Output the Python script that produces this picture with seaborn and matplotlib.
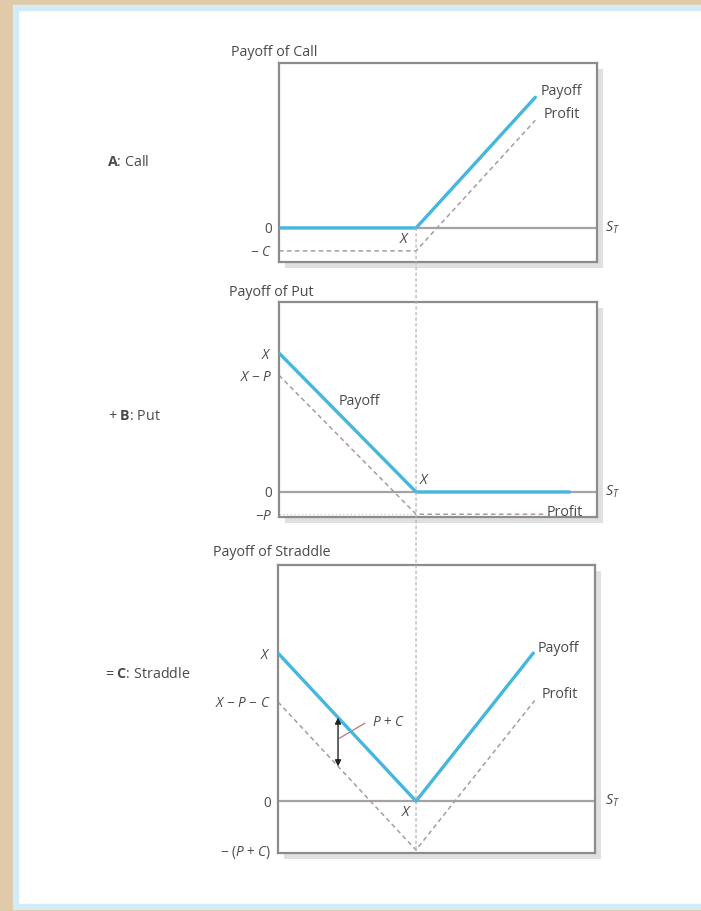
import matplotlib
matplotlib.use("Agg")
import matplotlib.pyplot as plt
import matplotlib.patheffects as pe
from matplotlib.patches import Rectangle, ConnectionPatch
import seaborn as sns

# ---------------- data ----------------
strike = 100
call_premium = 16.5
put_premium = 16
straddle_cost = 33

call_s = [0, 100, 187]
call_payoff = [0, 0, 94]
call_profit = [-16.5, -16.5, 77.5]

put_s_payoff = [0, 100, 212]
put_payoff = [100, 0, 0]
put_s_profit = [0, 100, 193]
put_profit = [84, -16, -16]

strad_s_payoff = [0, 100, 185]
strad_payoff = [100, 0, 100]
strad_s_profit = [0, 100, 186]
strad_profit = [67, -33, 68]

call_ticks = [0, -16.5]
call_ticklabels = ["0", "− $C$"]
put_ticks = [100, 84, 0, -16]
put_ticklabels = ["$X$", "$X$ − $P$", "0", "−$P$"]
strad_ticks = [100, 67, 0, -33]
strad_ticklabels = ["$X$", "$X$ − $P$ − $C$", "0", "− ($P$ + $C$)"]

# ---------------- style ----------------
sns.set_style("white")
plt.rcParams["font.family"] = ["Open Sans", "DejaVu Sans"]
plt.rcParams["mathtext.fontset"] = "custom"
plt.rcParams["mathtext.rm"] = "Open Sans"
plt.rcParams["mathtext.it"] = "Open Sans:italic"
plt.rcParams["mathtext.bf"] = "Open Sans:bold"

W, H = 701, 911
fig = plt.figure(figsize=(W / 100, H / 100), dpi=100, facecolor="#e0caa9")

def fx(px):
    return px / W

def fy(py):
    return 1 - py / H

# white frame with light-blue border
frame = Rectangle((fx(16), fy(907)), fx(720) - fx(16), fy(8) - fy(907),
                  transform=fig.transFigure, facecolor="white",
                  edgecolor="#d3ebf7", linewidth=4.5, zorder=-10)
fig.add_artist(frame)

PAY_C = "#45b6de"
PROF_C = "#ab9a9f"
ZERO_C = "#a3a3a3"
SPINE_C = "#8c8c8c"
TXT_C = "#4a4a4a"
FS = 10.3
TS = 9.8

def make_ax(l, t, r, b):
    ax = fig.add_axes([fx(l), fy(b), fx(r) - fx(l), fy(t) - fy(b)])
    ax.set_facecolor("white")
    ax.patch.set_path_effects([
        pe.SimplePatchShadow(offset=(4, -4), shadow_rgbFace="#999999", alpha=0.3),
        pe.Normal()])
    for sp in ax.spines.values():
        sp.set_color(SPINE_C)
        sp.set_linewidth(1.6)
        sp.set_visible(True)
    ax.set_xticks([])
    ax.tick_params(axis="y", length=0, pad=5, labelsize=TS, labelcolor=TXT_C)
    ax.set_xlabel("")
    ax.set_ylabel("")
    return ax

def draw(ax, s_pay, pay, s_prof, prof, xlim, ylim):
    ax.axhline(0, color=ZERO_C, lw=1.6, zorder=1)
    sns.lineplot(x=s_prof, y=prof, sort=False, estimator=None, ax=ax,
                 color=PROF_C, lw=1.1, dashes=False, zorder=2)
    ax.lines[-1].set_linestyle((0, (3, 2.2)))
    sns.lineplot(x=s_pay, y=pay, sort=False, estimator=None, ax=ax,
                 color=PAY_C, lw=2.4, zorder=3)
    ax.set_xlim(*xlim)
    ax.set_ylim(*ylim)

# ---- Panel A: Call ----
axA = make_ax(279, 63, 597, 262)
draw(axA, call_s, call_payoff, call_s, call_profit, (0, 232), (-24.5, 118.7))
axA.set_yticks(call_ticks, call_ticklabels)
axA.text(191, 98, "Payoff", fontsize=FS, color=TXT_C, va="center")
axA.text(193, 82, "Profit", fontsize=FS, color=TXT_C, va="center")
axA.text(92, -8.6, "$X$", fontsize=FS, color=TXT_C, ha="center", va="center")
axA.text(238, 0, "$S_T$", fontsize=FS, color=TXT_C, va="center", clip_on=False)

# ---- Panel B: Put ----
axB = make_ax(279, 302, 597, 517)
axB.hlines(-put_premium, 0, strike, colors="#cfcfcf", linestyles=(0, (1, 2)), lw=0.9)
draw(axB, put_s_payoff, put_payoff, put_s_profit, put_profit, (0, 232), (-18, 136.7))
axB.set_yticks(put_ticks, put_ticklabels)
axB.text(59, 65, "Payoff", fontsize=FS, color=TXT_C, ha="center", va="center")
axB.text(195, -15, "Profit", fontsize=FS, color=TXT_C, va="center")
axB.text(106.5, 8, "$X$", fontsize=FS, color=TXT_C, ha="center", va="center")
axB.text(238, 0, "$S_T$", fontsize=FS, color=TXT_C, va="center", clip_on=False)

# ---- Panel C: Straddle ----
axC = make_ax(278, 565, 595, 853)
draw(axC, strad_s_payoff, strad_payoff, strad_s_profit, strad_profit, (0, 229.7), (-35, 159.5))
axC.set_yticks(strad_ticks, strad_ticklabels)
axC.text(188, 103, "Payoff", fontsize=FS, color=TXT_C, va="center")
axC.text(191, 72, "Profit", fontsize=FS, color=TXT_C, va="center")
axC.text(93.5, -7.4, "$X$", fontsize=FS, color=TXT_C, ha="center", va="center")
axC.text(237, 0, "$S_T$", fontsize=FS, color=TXT_C, va="center", clip_on=False)
# P + C double arrow and leader
axC.annotate("", xy=(43.5, 23.5), xytext=(43.5, 56.5),
             arrowprops=dict(arrowstyle="<|-|>", color="#222222", lw=1.0,
                             shrinkA=0, shrinkB=0, mutation_scale=9))
axC.plot([44.5, 63], [42.5, 52.7], color="#c0707c", lw=0.9)
axC.text(68, 53.4, "$P$ + $C$", fontsize=TS, color=TXT_C, va="center")

# vertical dotted guide through the strike across all panels
con = ConnectionPatch(xyA=(strike, 0), coordsA=axA.transData,
                      xyB=(strike, -straddle_cost), coordsB=axC.transData,
                      color="#b3b3b3", lw=0.9, linestyle=(0, (2, 2.5)), zorder=5)
fig.add_artist(con)

# titles
fig.text(fx(231), fy(53), "Payoff of Call", fontsize=FS, color=TXT_C, va="center")
fig.text(fx(229), fy(292), "Payoff of Put", fontsize=FS, color=TXT_C, va="center")
fig.text(fx(213), fy(553), "Payoff of Straddle", fontsize=FS, color=TXT_C, va="center")

# left labels
fig.text(fx(107), fy(163), r"$\mathbf{A}$: Call", fontsize=FS, color=TXT_C, va="center")
fig.text(fx(108), fy(416), r"+ $\mathbf{B}$: Put", fontsize=FS, color=TXT_C, va="center")
fig.text(fx(105), fy(675), r"= $\mathbf{C}$: Straddle", fontsize=FS, color=TXT_C, va="center")

fig.savefig("out.png", dpi=100, facecolor=fig.get_facecolor())
